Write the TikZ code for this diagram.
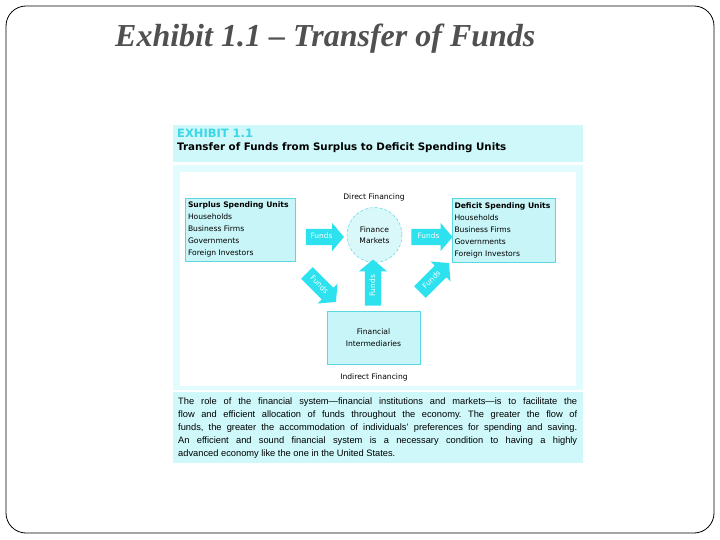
\documentclass[tikz,border=0pt]{standalone}
\usepackage{fontspec}
\setmainfont{Liberation Serif}
\setsansfont{DejaVu Sans}
\newfontfamily\parafont[Ligatures=TeX]{Liberation Sans}
\usetikzlibrary{shapes.arrows}
\definecolor{band}{RGB}{206,248,250}
\definecolor{panelbg}{RGB}{226,251,252}
\definecolor{boxfill}{RGB}{200,245,248}
\definecolor{boxedge}{RGB}{90,215,225}
\definecolor{arrowcyan}{RGB}{45,225,238}
\definecolor{exhcyan}{RGB}{60,215,230}
\definecolor{titlegray}{RGB}{80,80,80}
\tikzset{
  unitbox/.style={draw=boxedge, fill=boxfill, line width=0.6pt, inner sep=0pt,
    font=\sffamily\fontsize{7.6}{12}\selectfont, align=left},
  fundsarrow/.style={single arrow, fill=arrowcyan, draw=none, text=white,
    font=\sffamily\fontsize{7.4}{8}\selectfont, inner xsep=1.5pt, inner ysep=4.5pt,
    text height=5.5pt, text depth=1.5pt, single arrow head extend=6pt,
    single arrow tip angle=100},
  plainlabel/.style={font=\sffamily\fontsize{7.6}{10}\selectfont, inner sep=0pt}
}
\begin{document}
\begin{tikzpicture}[x=1pt,y=-1pt]
\useasboundingbox (0,0) rectangle (720,540);
% outer frame
\draw[rounded corners=20pt, line width=0.8pt] (6,6) rectangle (714,533);
\node[font=\bfseries\itshape\fontsize{32}{34}\selectfont, text=titlegray, anchor=base west, inner sep=0pt] (title) at (115,47) {Exhibit 1.1 -- Transfer of Funds};
% panel backgrounds
\fill[band] (173,125) rectangle (583,162);
\fill[panelbg] (173,165) rectangle (583,390);
\fill[white] (180,172) rectangle (576,386);
\fill[band] (173,392) rectangle (583,463);
% header
\node[anchor=base west, font=\sffamily\bfseries\fontsize{11.5}{12}\selectfont, text=exhcyan, inner sep=0pt] (exh) at (177,138) {EXHIBIT 1.1};
\node[anchor=base west, font=\sffamily\bfseries\fontsize{10.3}{12}\selectfont, inner sep=0pt] (sub) at (177,151) {Transfer of Funds from Surplus to Deficit Spending Units};
% boxes
\node[unitbox, minimum width=110pt, minimum height=63pt] (surplus) at (240,229.5)
  {\begin{minipage}{104pt}\raggedright\textbf{Surplus Spending Units}\\Households\\Business Firms\\Governments\\Foreign Investors\end{minipage}};
\node[unitbox, minimum width=103pt, minimum height=64pt] (deficit) at (503.5,230)
  {\begin{minipage}{98pt}\raggedright\textbf{Deficit Spending Units}\\Households\\Business Firms\\Governments\\Foreign Investors\end{minipage}};
\node[circle, draw=boxedge, densely dashed, line width=0.5pt, fill=boxfill!70!white, minimum size=55pt, inner sep=0pt, align=center, font=\sffamily\fontsize{7.6}{11}\selectfont] (fm) at (374.5,235) {Finance\\Markets};
\node[plainlabel] (direct) at (374,197) {Direct Financing};
\node[unitbox, minimum width=93pt, minimum height=53pt, align=center] (fi) at (373.5,337.5) {Financial\\Intermediaries};
\node[plainlabel] (indirect) at (374,377) {Indirect Financing};
% arrows
\node[fundsarrow, minimum height=38pt] (a1) at (321.5,237) {Funds};
\node[fundsarrow, minimum height=41pt] (a2) at (428.5,237) {Funds};
\node[fundsarrow, minimum height=41pt, rotate=-45] (a3) at (319,285) {Funds};
\node[fundsarrow, minimum height=46pt, rotate=90] (a4) at (373,286) {Funds};
\node[fundsarrow, minimum height=41pt, rotate=45] (a5) at (432,280) {Funds};
% paragraph
\node[anchor=north west, inner sep=0pt, font=\parafont\fontsize{9.3}{12.9}\selectfont] (para) at (178,398)
 {\begin{minipage}{399pt}\frenchspacing\setlength{\parfillskip}{0pt plus 1fil}The role of the financial system—financial institutions and markets—is to facilitate the\linebreak flow and efficient allocation of funds throughout the economy. The greater the flow of\linebreak funds, the greater the accommodation of individuals’ preferences for spending and saving.\linebreak An efficient and sound financial system is a necessary condition to having a highly\linebreak advanced economy like the one in the United States.\end{minipage}};
\end{tikzpicture}
\end{document}
